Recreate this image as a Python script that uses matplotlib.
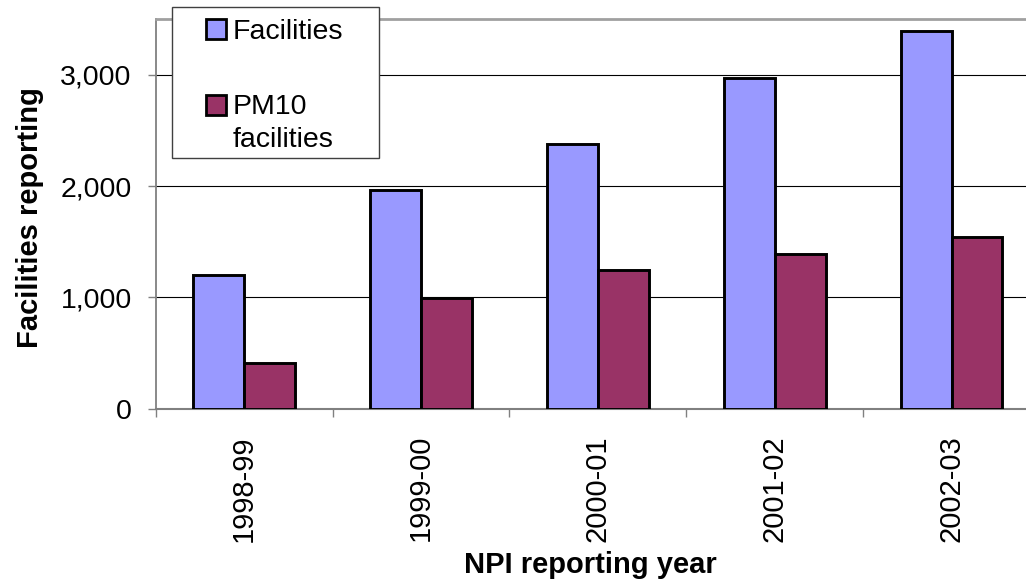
import matplotlib

matplotlib.use("Agg")
import matplotlib.pyplot as plt
import numpy as np
from matplotlib.patches import Rectangle
from matplotlib.ticker import FuncFormatter, FixedLocator

plt.rcParams["font.family"] = ["Liberation Sans", "DejaVu Sans"]

# ---------------------------------------------------------------------------
# Data
# ---------------------------------------------------------------------------
years = ["1998-99", "1999-00", "2000-01", "2001-02", "2002-03"]
facilities = [1200, 1965, 2375, 2970, 3395]
pm10_facilities = [410, 990, 1250, 1390, 1540]
series_names = ["Facilities", "PM10\nfacilities"]
series_colors = ["#9999FF", "#993366"]

W, H = 1026, 581
fig = plt.figure(figsize=(W / 100, H / 100), dpi=100)


def fx(px):
    return px / W


def fy(py):
    return 1 - py / H


# axes extends past the right edge of the figure, like the cropped original
ax = fig.add_axes([fx(155.7), fy(408.7), fx(1040 - 155.7), (408.7 - 19) / H])

x = np.arange(len(years))
bw = 0.2875
for offset, vals, color in zip((-bw / 2, bw / 2), (facilities, pm10_facilities), series_colors):
    ax.bar(x + offset, vals, width=bw, color=color, edgecolor="black",
           linewidth=2.1, zorder=3)

ax.set_xlim(-0.5, len(years) - 0.5)
ax.set_ylim(0, 3500)
ax.set_yticks([0, 1000, 2000, 3000])
ax.yaxis.set_major_formatter(FuncFormatter(lambda v, p: f"{int(v):,}"))
ax.yaxis.grid(True, color="black", linewidth=0.8, zorder=0)
ax.tick_params(axis="y", labelsize=20.5, length=5.8, width=1.0, color="#808080",
               pad=11.5)

ax.set_xticks(x)
ax.set_xticklabels(years, rotation=90, va="top", ha="center")
ax.xaxis.set_minor_locator(FixedLocator(np.arange(-0.5, len(years), 1.0)))
ax.tick_params(axis="x", which="major", length=0, labelsize=21, pad=19.0)
ax.tick_params(axis="x", which="minor", length=5.8, width=1.0, color="#808080")

ax.spines["right"].set_visible(False)
ax.spines["left"].set_color("#808080")
ax.spines["left"].set_linewidth(1.3)
ax.spines["bottom"].set_color("#808080")
ax.spines["bottom"].set_linewidth(1.5)
ax.spines["top"].set_color("#a0a0a0")
ax.spines["top"].set_linewidth(2.0)

# axis titles
fig.text(fx(590), fy(573), "NPI reporting year", ha="center", va="baseline",
         fontsize=21, fontweight="bold")
fig.text(fx(30), fy(217.5), "Facilities reporting", ha="center", va="center",
         rotation=90, fontsize=21, fontweight="bold")

# legend box (Excel style, partly above the plot area)
fig.add_artist(Rectangle((fx(171.7), fy(158.3)), fx(379 - 171.7), (158.3 - 7.3) / H,
                         transform=fig.transFigure, facecolor="white",
                         edgecolor="#404040", linewidth=1.0, zorder=5))
swatch_tops = [19, 95]
baselines = [39, 113.7]
for name, color, top, base in zip(series_names, series_colors, swatch_tops, baselines):
    fig.add_artist(Rectangle((fx(205.7), fy(top + 20)), fx(20.3), 20 / H,
                             transform=fig.transFigure, facecolor=color,
                             edgecolor="black", linewidth=2.0, zorder=6))
    for i, line in enumerate(name.split("\n")):
        fig.text(fx(233), fy(base + 33 * i), line, ha="left", va="baseline",
                 fontsize=20.5, zorder=7)

fig.savefig("out.png", dpi=100)
